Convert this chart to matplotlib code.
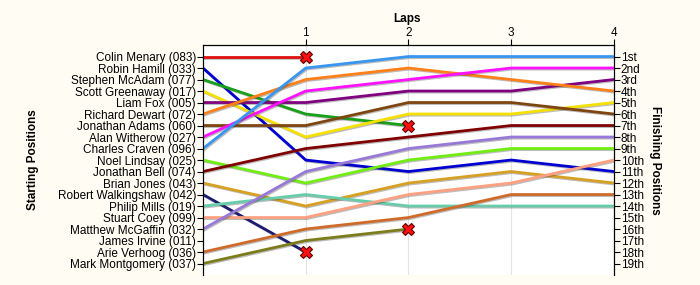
import numpy as np
import matplotlib
matplotlib.use('Agg')
import matplotlib.pyplot as plt
import matplotlib.patheffects as pe

plt.rcParams['font.family'] = ['Liberation Sans', 'DejaVu Sans']

# drivers in starting order
drivers = ['Colin Menary (083)', 'Robin Hamill (033)', 'Stephen McAdam (077)',
           'Scott Greenaway (017)', 'Liam Fox (005)', 'Richard Dewart (072)',
           'Jonathan Adams (060)', 'Alan Witherow (027)', 'Charles Craven (096)',
           'Noel Lindsay (025)', 'Jonathan Bell (074)', 'Brian Jones (043)',
           'Robert Walkingshaw (042)', 'Philip Mills (019)', 'Stuart Coey (099)',
           'Matthew McGaffin (032)', 'James Irvine (011)', 'Arie Verhoog (036)',
           'Mark Montgomery (037)']
ordinals = ['1st', '2nd', '3rd', '4th', '5th', '6th', '7th', '8th', '9th', '10th',
            '11th', '12th', '13th', '14th', '15th', '16th', '17th', '18th', '19th']
laps = [0, 1, 2, 3, 4]

# position after each lap (None = not running)
positions = {
    'Colin Menary (083)':       [1, 1, None, None, None],
    'Robin Hamill (033)':       [2, 10, 11, 10, 11],
    'Stephen McAdam (077)':     [3, 6, 7, None, None],
    'Scott Greenaway (017)':    [4, 8, 6, 6, 5],
    'Liam Fox (005)':           [5, 5, 4, 4, 3],
    'Richard Dewart (072)':     [6, 3, 2, 3, 4],
    'Jonathan Adams (060)':     [7, 7, 5, 5, 6],
    'Alan Witherow (027)':      [8, 4, 3, 2, 2],
    'Charles Craven (096)':     [9, 2, 1, 1, 1],
    'Noel Lindsay (025)':       [10, 12, 10, 9, 9],
    'Jonathan Bell (074)':      [11, 9, 8, 7, 7],
    'Brian Jones (043)':        [12, 14, 12, 11, 12],
    'Robert Walkingshaw (042)': [13, 18, None, None, None],
    'Philip Mills (019)':       [14, 13, 14, 14, 14],
    'Stuart Coey (099)':        [15, 15, 13, 12, 10],
    'Matthew McGaffin (032)':   [16, 11, 9, 8, 8],
    'Arie Verhoog (036)':       [18, 16, 15, 13, 13],
    'Mark Montgomery (037)':    [19, 17, 16, None, None],
}
# drivers who retired (marked with a cross at their last position)
retired = ['Colin Menary (083)', 'Stephen McAdam (077)',
           'Robert Walkingshaw (042)', 'Mark Montgomery (037)']

colors = {
    'Colin Menary (083)': '#e01010',
    'Robin Hamill (033)': '#0000d0',
    'Stephen McAdam (077)': '#18a018',
    'Scott Greenaway (017)': '#f5e000',
    'Liam Fox (005)': '#800080',
    'Richard Dewart (072)': '#ff8018',
    'Jonathan Adams (060)': '#7f4510',
    'Alan Witherow (027)': '#ff10ff',
    'Charles Craven (096)': '#3895f0',
    'Noel Lindsay (025)': '#70ee10',
    'Jonathan Bell (074)': '#800000',
    'Brian Jones (043)': '#d8a020',
    'Robert Walkingshaw (042)': '#1c1c70',
    'Philip Mills (019)': '#66ccaa',
    'Stuart Coey (099)': '#ffa080',
    'Matthew McGaffin (032)': '#9878d8',
    'Arie Verhoog (036)': '#d06a28',
    'Mark Montgomery (037)': '#7c7c1c',
}

fig = plt.figure(figsize=(7, 2.85), dpi=100, facecolor='#fffdf3')
ax = fig.add_axes([0.29, 0.035, 0.587, 0.807])
ax.set_facecolor('white')

shadow = [pe.SimpleLineShadow(offset=(0.8, -0.8), alpha=0.35, shadow_color='#404040'), pe.Normal()]
for name, pos in positions.items():
    x = [l for l, p in zip(laps, pos) if p is not None]
    y = [p for p in pos if p is not None]
    ax.plot(x, y, color=colors[name], lw=2.0, solid_joinstyle='miter',
            path_effects=shadow, zorder=3)
    if name in retired:
        ax.plot(x[-1], y[-1], marker='X', ms=8.5, mfc='#ff1010', mec='#600000',
                mew=0.8, zorder=5)

ax.set_xlim(0, 4)
ax.set_ylim(20, 0)
ax.set_yticks(range(1, 20))
ax.set_yticklabels(drivers, fontsize=8.5)
ax.set_xticks([1, 2, 3, 4])
ax.set_xticklabels(['1', '2', '3', '4'], fontsize=8.5)
ax.xaxis.tick_top()
ax.tick_params(axis='x', length=4, pad=0)
ax.tick_params(axis='y', length=4, pad=1)
ax.set_yticks(range(0, 21), minor=True)
ax.grid(True, which='minor', axis='y', color='#e4e4e4', lw=0.8, zorder=0)
ax.grid(True, which='major', axis='x', color='#e4e4e4', lw=0.8, zorder=0)
ax.tick_params(which='minor', length=0)
ax.set_xlabel('Laps', fontsize=8.5, fontweight='bold')
ax.xaxis.set_label_position('top')
ax.xaxis.set_label_coords(0.497, 1.10)
ax.set_ylabel('Starting Positions', fontsize=8.5, fontweight='bold')
ax.yaxis.set_label_coords(-0.40, 0.5)

ax.spines['bottom'].set_visible(False)

ax2 = ax.twinx()
ax2.set_ylim(20, 0)
ax2.set_yticks(range(1, 20))
ax2.set_yticklabels(ordinals, fontsize=8.5)
ax2.tick_params(axis='y', length=4, pad=1)
ax2.spines['bottom'].set_visible(False)
ax2.set_ylabel('Finishing Positions', fontsize=8.5, fontweight='bold', rotation=-90,
               va='bottom')
ax2.yaxis.set_label_coords(1.085, 0.5)

fig.savefig('out.png', dpi=100, facecolor=fig.get_facecolor())
